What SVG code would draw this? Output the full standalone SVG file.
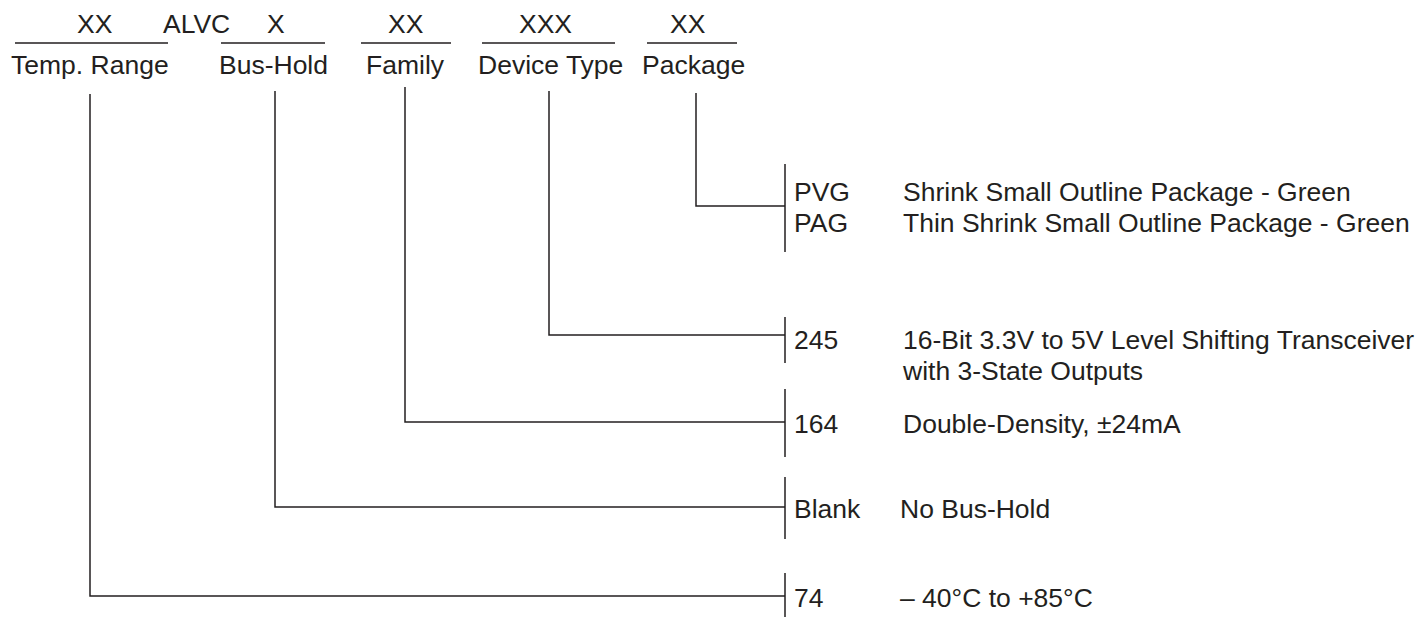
<svg xmlns="http://www.w3.org/2000/svg" width="1421" height="617" viewBox="0 0 1421 617">
<style>
text{font-family:"Liberation Sans",Arial,sans-serif;font-size:26.5px;fill:#231f20}
.ln{stroke:#231f20;stroke-width:1.5;fill:none}
</style>
<rect width="1421" height="617" fill="#fff"/>
<g id="header">
<text x="77" y="33">XX</text>
<text x="163" y="33">ALVC</text>
<text x="267" y="33">X</text>
<text x="388" y="33">XX</text>
<text x="519" y="33">XXX</text>
<text x="670" y="33">XX</text>
<path class="ln" d="M15 43H168M221 43H325M361 43H451M482 43H615M647 43H737"/>
</g>
<g id="temp-range"><text x="11" y="74">Temp. Range</text></g>
<g id="bus-hold"><text x="219" y="74">Bus-Hold</text></g>
<g id="family"><text x="366" y="74">Family</text></g>
<g id="device-type"><text x="478" y="74">Device Type</text></g>
<g id="package"><text x="642" y="74">Package</text></g>
<g id="connectors">
<path class="ln" d="M90 94V596H785"/>
<path class="ln" d="M275 91V507H785"/>
<path class="ln" d="M405 87V422H785"/>
<path class="ln" d="M549 91V335H785"/>
<path class="ln" d="M696 93V206H785"/>
<path class="ln" d="M785 164V252M785 317V363M785 389V457M785 477V539M785 573V617"/>
</g>
<g id="opt-package">
<text x="794" y="201">PVG</text>
<text x="903" y="201">Shrink Small Outline Package - Green</text>
<text x="794" y="232">PAG</text>
<text x="903" y="232">Thin Shrink Small Outline Package - Green</text>
</g>
<g id="opt-device">
<text x="794" y="349">245</text>
<text x="903" y="349">16-Bit 3.3V to 5V Level Shifting Transceiver</text>
<text x="903" y="380">with 3-State Outputs</text>
</g>
<g id="opt-family">
<text x="794" y="433">164</text>
<text x="903" y="433">Double-Density, ±24mA</text>
</g>
<g id="opt-bushold">
<text x="794" y="518">Blank</text>
<text x="900" y="518">No Bus-Hold</text>
</g>
<g id="opt-temp">
<text x="794" y="607">74</text>
<text x="900" y="607">– 40°C to +85°C</text>
</g>
</svg>
